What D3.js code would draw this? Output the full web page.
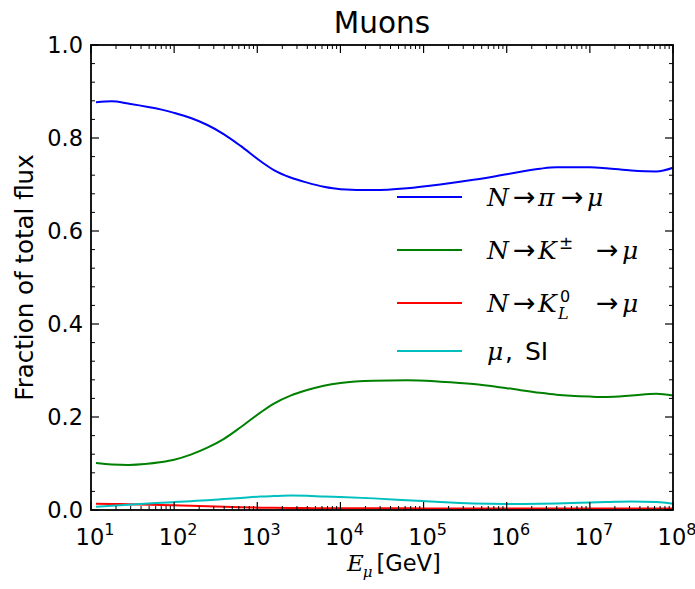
<!DOCTYPE html>
<html>
<head>
<meta charset="utf-8">
<script src="https://cdn.jsdelivr.net/npm/d3@7"></script>
<style>
  html, body { margin: 0; padding: 0; background: #fff; }
  svg { display: block; }
</style>
</head>
<body>
<svg id="chart" width="695" height="589"></svg>
<script>
// Muon flux fractions by production channel vs. muon energy (log10 of E in GeV)
const logE = [1.06, 1.25, 1.45, 1.85, 2.0, 2.2, 2.4, 2.6, 2.8, 3.04, 3.2, 3.4, 3.6, 3.8, 4.0, 4.4, 4.8, 5.2, 5.6, 6.0, 6.4, 6.6, 7.0, 7.2, 7.5, 7.8, 8.0];
const fracPion = [0.877, 0.879, 0.874, 0.861, 0.854, 0.843, 0.828, 0.808, 0.783, 0.750, 0.731, 0.715, 0.704, 0.695, 0.690, 0.688, 0.692, 0.700, 0.710, 0.722, 0.734, 0.737, 0.737, 0.735, 0.730, 0.728, 0.736];
const fracKaonCharged = [0.101, 0.098, 0.097, 0.103, 0.108, 0.119, 0.134, 0.153, 0.178, 0.210, 0.229, 0.246, 0.258, 0.267, 0.273, 0.278, 0.279, 0.276, 0.271, 0.262, 0.252, 0.248, 0.244, 0.243, 0.246, 0.250, 0.246];
const fracKaonLong = [0.0135, 0.013, 0.0125, 0.011, 0.0102, 0.009, 0.008, 0.0068, 0.0058, 0.005, 0.0046, 0.0043, 0.0041, 0.0039, 0.0038, 0.0036, 0.0035, 0.0034, 0.0033, 0.0032, 0.0032, 0.0032, 0.0032, 0.0032, 0.0032, 0.0032, 0.0032];
const fracSI = [0.007, 0.009, 0.0115, 0.0155, 0.017, 0.019, 0.021, 0.0235, 0.026, 0.029, 0.030, 0.031, 0.0305, 0.029, 0.028, 0.025, 0.021, 0.017, 0.014, 0.013, 0.0135, 0.014, 0.016, 0.017, 0.0185, 0.017, 0.0135];

const xDecades = [1, 2, 3, 4, 5, 6, 7, 8];
const yTicks = [0.0, 0.2, 0.4, 0.6, 0.8, 1.0];

const series = [
  { name: "pion", values: fracPion, color: "#0000ff" },
  { name: "kaonCharged", values: fracKaonCharged, color: "#008000" },
  { name: "kaonLong", values: fracKaonLong, color: "#ff0000" },
  { name: "si", values: fracSI, color: "#00bfbf" }
];

const svg = d3.select("#chart");
const plotLeft = 91, plotRight = 673, plotTop = 45, plotBottom = 510;

const x = d3.scaleLog().domain([10, 1e8]).range([plotLeft, plotRight]);
const y = d3.scaleLinear().domain([0, 1]).range([plotBottom, plotTop]);

const SANS = "DejaVu Sans, sans-serif";
const SERIF = "DejaVu Serif, Liberation Serif, serif";

// curves
const line = d3.line()
  .x((d, i) => x(Math.pow(10, logE[i])))
  .y(d => y(d))
  .curve(d3.curveMonotoneX);

const plot = svg.append("g");
series.forEach(s => {
  plot.append("path")
    .attr("d", line(s.values))
    .attr("fill", "none")
    .attr("stroke", s.color)
    .attr("stroke-width", 2);
});

// ticks (inward, on all four sides)
const axisG = svg.append("g").attr("stroke", "#000");
const majorX = xDecades.map(p => Math.pow(10, p));
const minorX = [];
for (let p = 1; p < 8; p++) for (let m = 2; m <= 9; m++) minorX.push(m * Math.pow(10, p));
function vtick(px, len, w) {
  axisG.append("line").attr("x1", px).attr("x2", px).attr("y1", plotBottom).attr("y2", plotBottom - len).attr("stroke-width", w);
  axisG.append("line").attr("x1", px).attr("x2", px).attr("y1", plotTop).attr("y2", plotTop + len).attr("stroke-width", w);
}
function htick(py, len, w) {
  axisG.append("line").attr("y1", py).attr("y2", py).attr("x1", plotLeft).attr("x2", plotLeft + len).attr("stroke-width", w);
  axisG.append("line").attr("y1", py).attr("y2", py).attr("x1", plotRight).attr("x2", plotRight - len).attr("stroke-width", w);
}
majorX.forEach(v => vtick(x(v), 8, 1.2));
minorX.forEach(v => vtick(x(v), 4, 1));
d3.range(0, 1.0001, 0.04).forEach(v => {
  const isMajor = Math.abs(v * 5 - Math.round(v * 5)) < 1e-6;
  htick(y(v), isMajor ? 8 : 4, isMajor ? 1.2 : 1);
});

// frame
svg.append("rect")
  .attr("x", plotLeft).attr("y", plotTop)
  .attr("width", plotRight - plotLeft).attr("height", plotBottom - plotTop)
  .attr("fill", "none").attr("stroke", "#000").attr("stroke-width", 1.8);

// y tick labels
yTicks.forEach(v => {
  svg.append("text")
    .attr("x", plotLeft - 8).attr("y", y(v) + 8)
    .attr("text-anchor", "end")
    .attr("font-family", SANS).attr("font-size", 22.5)
    .text(d3.format(".1f")(v));
});

// x tick labels 10^n
xDecades.forEach(p => {
  const t = svg.append("text")
    .attr("x", x(Math.pow(10, p)) + 4).attr("y", 545)
    .attr("text-anchor", "middle")
    .attr("font-family", SANS).attr("font-size", 22.5);
  t.append("tspan").text("10");
  t.append("tspan").attr("font-size", 16).attr("dy", -10).text(String(p));
});

// title
svg.append("text")
  .attr("x", (plotLeft + plotRight) / 2).attr("y", 33)
  .attr("text-anchor", "middle")
  .attr("font-family", SANS).attr("font-size", 29.5)
  .text("Muons");

// y axis label
svg.append("text")
  .attr("transform", `translate(33,${(plotTop + plotBottom) / 2}) rotate(-90)`)
  .attr("text-anchor", "middle")
  .attr("font-family", SANS).attr("font-size", 24.5)
  .text("Fraction of total flux");

// sequential math-style text builder; w = advance of a piece (overrides measured width)
function mathText(g, x0, y0, pieces, baseSize) {
  let cx = x0;
  pieces.forEach(p => {
    const parts = Array.isArray(p) ? p : [p];
    let adv = 0;
    parts.forEach(q => {
      const t = g.append("text")
        .attr("x", cx + (q.dx || 0)).attr("y", y0 + (q.dy || 0))
        .attr("font-family", q.sans ? SANS : SERIF)
        .attr("font-style", q.it ? "italic" : "normal")
        .attr("font-size", q.size || baseSize)
        .text(q.t);
      const measured = t.node().getComputedTextLength() + (q.dx || 0) + (q.after || 0);
      adv = Math.max(adv, q.w != null ? q.w : measured);
    });
    cx += adv;
  });
}

// x axis label
const xl = svg.append("g");
mathText(xl, 347, 571, [
  { t: "E", it: true, size: 23 },
  { t: "μ", it: true, size: 15, dy: 6, dx: -1, after: 4 },
  { t: "[GeV]", sans: true, size: 22.5 }
], 23);

// legend
const arrow = w => ({ t: "→", sans: true, size: 27, w: w });
const legendRows = [
  [{ t: "N", it: true, w: 26 }, arrow(25), { t: "π", it: true, w: 23 }, arrow(26), { t: "μ", it: true }],
  [{ t: "N", it: true, w: 26 }, arrow(25), { t: "K", it: true, w: 21 },
    { t: "±", sans: true, size: 17, dy: -10, w: 37 }, arrow(26), { t: "μ", it: true }],
  [{ t: "N", it: true, w: 26 }, arrow(25), { t: "K", it: true, w: 21 },
    [{ t: "0", sans: true, size: 16, dy: -10, dx: 1, w: 37 }, { t: "L", it: true, size: 16, dy: 7, dx: -1, w: 37 }],
    arrow(26), { t: "μ", it: true }],
  [{ t: "μ", it: true, w: 18 }, { t: ",", sans: true, size: 25, w: 20 }, { t: "SI", sans: true, size: 25 }]
];
const legendY = [197, 250, 303, 351];
const legend = svg.append("g");
series.forEach((s, i) => {
  legend.append("line")
    .attr("x1", 397).attr("x2", 462)
    .attr("y1", legendY[i]).attr("y2", legendY[i])
    .attr("stroke", s.color).attr("stroke-width", 2);
  mathText(legend, 487, legendY[i] + 9, legendRows[i], 25);
});
</script>
</body>
</html>
